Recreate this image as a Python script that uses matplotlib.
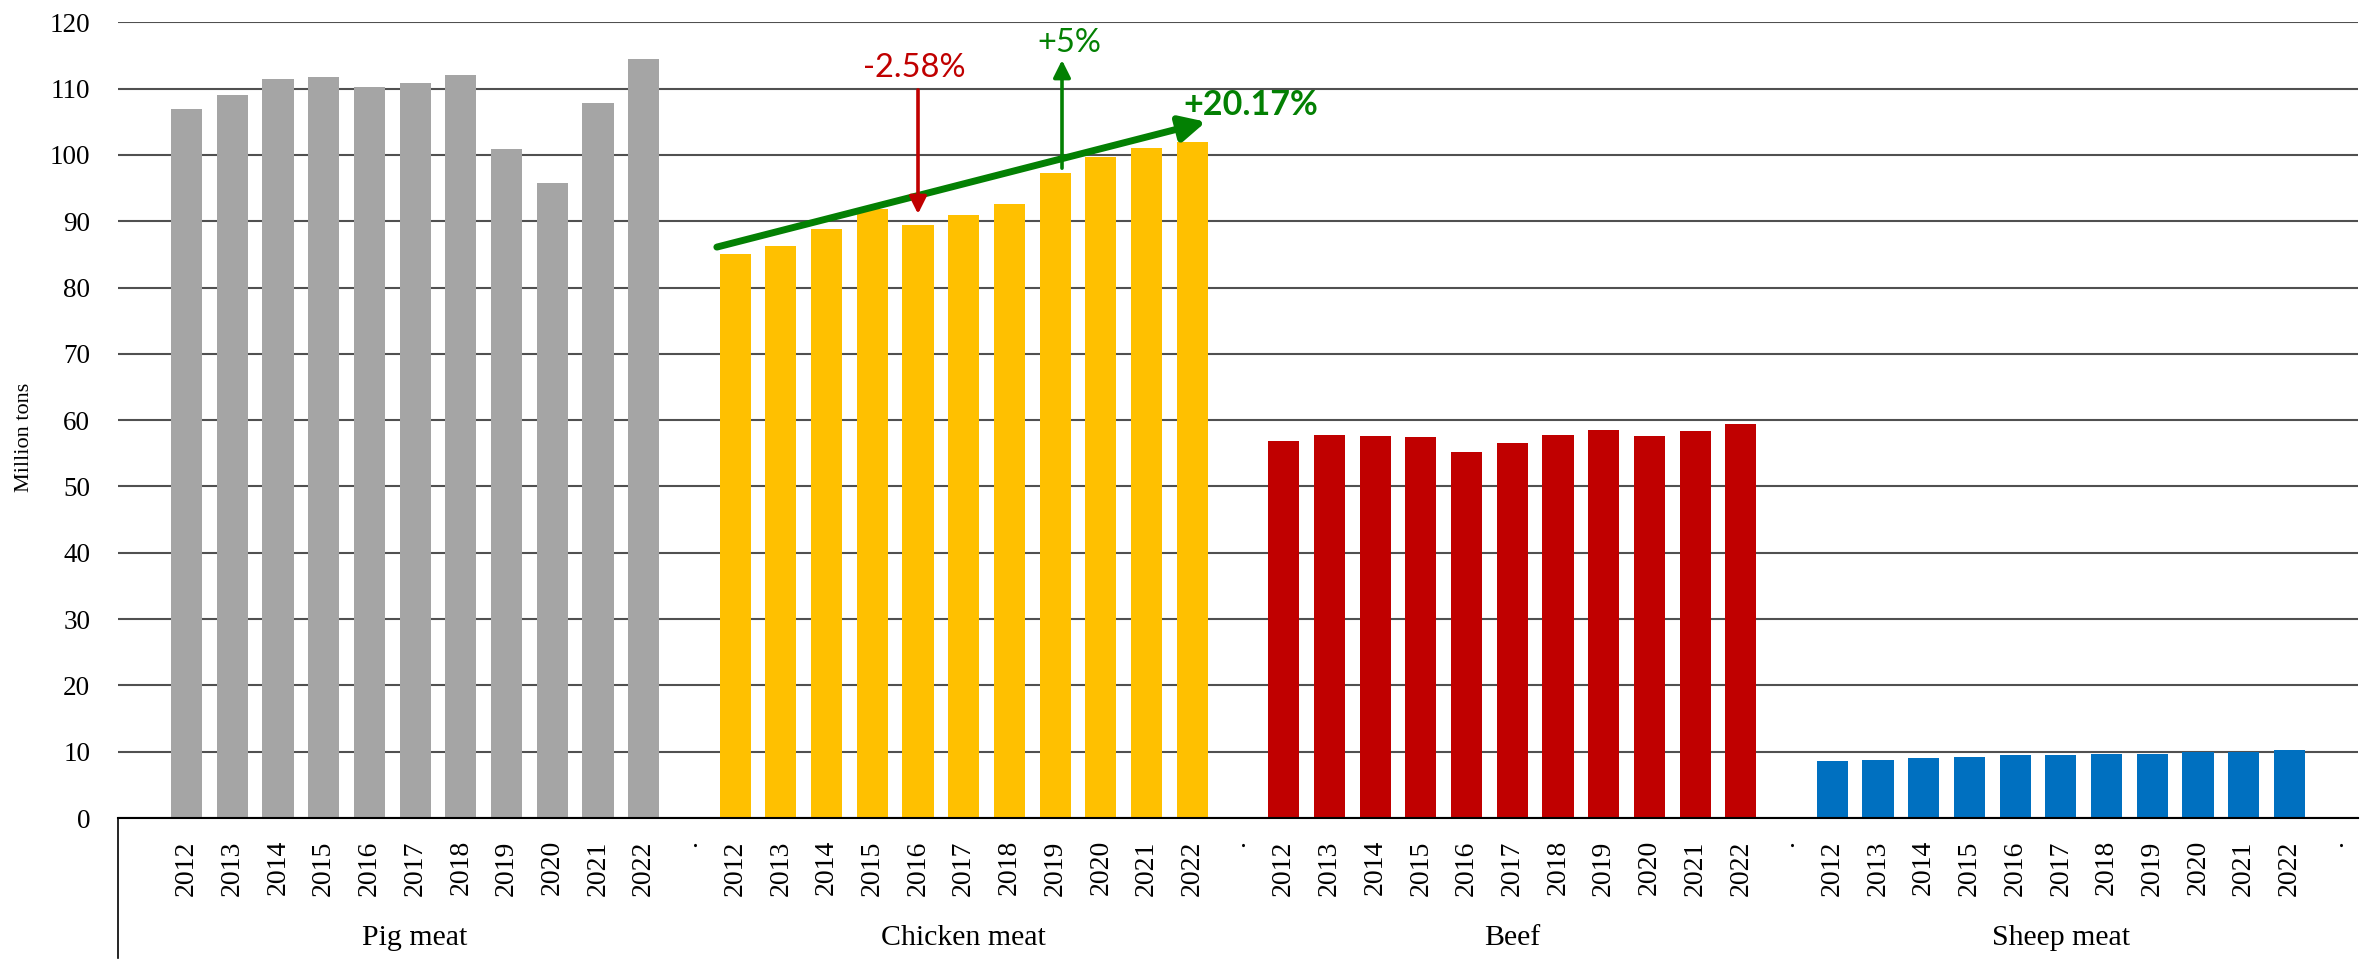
import numpy as np
import matplotlib.pyplot as plt

# production by meat type, million tons
years = [str(y) for y in range(2012, 2023)]
groups = ["Pig meat", "Chicken meat", "Beef", "Sheep meat"]
pig = [106.9, 109.1, 111.4, 111.8, 110.2, 110.9, 112.0, 100.9, 95.7, 107.8, 114.5]
chicken = [85.0, 86.2, 88.9, 91.8, 89.4, 91.0, 92.6, 97.3, 99.7, 101.0, 101.9]
beef = [56.9, 57.8, 57.6, 57.5, 55.2, 56.5, 57.8, 58.5, 57.6, 58.3, 59.4]
sheep = [8.55, 8.7, 9.05, 9.25, 9.45, 9.45, 9.6, 9.6, 10.0, 10.0, 10.25]
colors = ["#A5A5A5", "#FFC000", "#C00000", "#0070C0"]

serif = "Liberation Serif"
calib = "Lato"

fig = plt.figure(figsize=(23.67, 9.72), dpi=100)
ax = fig.add_axes([118 / 2367, 1 - 818 / 972, (2358 - 118) / 2367, (818 - 22.3) / 972])

# each group takes 11 slots plus one separator slot
tick_pos = []
tick_lab = []
for g, vals in enumerate([pig, chicken, beef, sheep]):
    x = g * 12 + np.arange(len(years))
    ax.bar(x, vals, width=0.68, color=colors[g], zorder=3)
    tick_pos += list(x) + [g * 12 + 11]
    tick_lab += years + ["."]
    ax.text(g * 12 + 5, -0.151, groups[g], transform=ax.get_xaxis_transform(),
            ha="center", va="center", fontsize=21.5, family=serif)

ax.set_xlim(-1.5, 47.5)
ax.set_ylim(0, 120)
ax.set_yticks(np.arange(0, 121, 10))
ax.set_xticks(tick_pos)
ax.set_xticklabels(tick_lab, rotation=90, fontsize=20, family=serif)
for lab in ax.get_yticklabels():
    lab.set_family(serif)
    lab.set_fontsize(19.5)
ax.tick_params(axis="y", length=0, pad=20)
ax.tick_params(axis="x", length=0, pad=16)
ax.grid(axis="y", color="#505050", linewidth=1.5, zorder=0)
for s in ["left", "right", "top"]:
    ax.spines[s].set_visible(False)
ax.spines["bottom"].set_color("black")
ax.spines["bottom"].set_linewidth(1.5)
ax.spines["bottom"].set_zorder(4)
# left line of the category axis box
ax.plot([0, 0], [0, -0.176], transform=ax.transAxes, color="black", lw=1.2, clip_on=False)

fig.text(25 / 2367, 1 - 437 / 972, "Million tons", rotation=90, ha="center", va="center",
         fontsize=16, family=serif)

# annotations on chicken meat
green = "#038003"
red = "#C00000"
ax.annotate("", xy=(22.3, 105.0), xytext=(11.6, 86.1),
            arrowprops=dict(arrowstyle="-|>", color=green, lw=5, mutation_scale=38,
                            shrinkA=0, shrinkB=0), zorder=5)
ax.annotate("", xy=(16.0, 91.1), xytext=(16.0, 109.8),
            arrowprops=dict(arrowstyle="-|>", color=red, lw=2.6, mutation_scale=26,
                            shrinkA=0, shrinkB=0), zorder=5)
ax.annotate("", xy=(19.15, 114.3), xytext=(19.15, 98.0),
            arrowprops=dict(arrowstyle="-|>", color=green, lw=2.6, mutation_scale=26,
                            shrinkA=0, shrinkB=0), zorder=5)
ax.text(15.92, 113.1, "-2.58%", color=red, fontsize=23.5, family=calib, ha="center", va="center")
ax.text(19.31, 116.9, "+5%", color=green, fontsize=23.5, family=calib, ha="center", va="center")
ax.text(21.81, 107.5, "+20.17%", color=green, fontsize=24.5, family=calib, fontweight="bold",
        ha="left", va="center")

fig.savefig("out.png", dpi=100)
